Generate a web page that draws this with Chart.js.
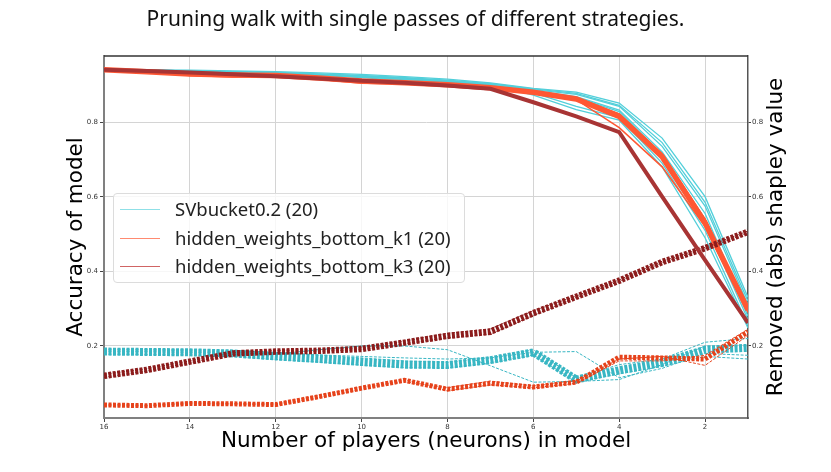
<!DOCTYPE html>
<html>
<head>
<meta charset="utf-8">
<title>Pruning walk</title>
<script src="https://cdn.jsdelivr.net/npm/chart.js@4.4.1/dist/chart.umd.min.js"></script>
<style>
  html, body { margin: 0; padding: 0; background: #fff; }
  #wrap { position: relative; width: 831px; height: 472px; }
  #legend {
    position: absolute; left: 113px; top: 193px; width: 352px; height: 90px;
    box-sizing: border-box; border: 1px solid #dcdcdc; border-radius: 4px;
    background: rgba(255,255,255,0.8);
    font-family: "Noto Sans", sans-serif; font-size: 18.5px; color: #222;
  }
  .item { position: absolute; left: 6px; height: 20px; }
  .item .swatch { position: absolute; left: 0; top: 9px; width: 40px; height: 0; border-top: 1.5px solid; }
  .item .label { position: absolute; left: 55px; top: -4px; white-space: nowrap; }
</style>
</head>
<body>
<div id="wrap">
  <canvas id="chart" width="831" height="472"></canvas>
  <div id="legend"></div>
</div>
<script>
// x positions (players left in the model) and tick labels
const players = [16, 15, 14, 13, 12, 11, 10, 9, 8, 7, 6, 5, 4, 3, 2, 1];
const xTicks = [16, 14, 12, 10, 8, 6, 4, 2];
const yTicks = [0.2, 0.4, 0.6, 0.8];
const legendLabels = ['SVbucket0.2 (20)', 'hidden_weights_bottom_k1 (20)', 'hidden_weights_bottom_k3 (20)'];

// accuracy of model (solid lines, left axis)
const svAcc = [
  [0.942, 0.940, 0.939, 0.937, 0.935, 0.932, 0.928, 0.922, 0.915, 0.905, 0.890, 0.880, 0.851, 0.757, 0.600, 0.330],
  [0.941, 0.939, 0.937, 0.935, 0.933, 0.929, 0.925, 0.919, 0.912, 0.902, 0.887, 0.874, 0.842, 0.735, 0.575, 0.310],
  [0.940, 0.938, 0.936, 0.934, 0.931, 0.927, 0.922, 0.916, 0.909, 0.899, 0.884, 0.868, 0.832, 0.720, 0.555, 0.290],
  [0.939, 0.937, 0.935, 0.933, 0.930, 0.926, 0.921, 0.914, 0.907, 0.897, 0.881, 0.860, 0.822, 0.705, 0.530, 0.270],
  [0.940, 0.938, 0.936, 0.933, 0.930, 0.925, 0.919, 0.911, 0.903, 0.893, 0.878, 0.842, 0.812, 0.690, 0.510, 0.255],
  [0.941, 0.939, 0.937, 0.934, 0.932, 0.928, 0.924, 0.918, 0.910, 0.900, 0.872, 0.833, 0.805, 0.680, 0.490, 0.248],
  [0.940, 0.939, 0.937, 0.935, 0.932, 0.928, 0.923, 0.917, 0.911, 0.903, 0.889, 0.877, 0.845, 0.745, 0.585, 0.320],
  [0.941, 0.939, 0.936, 0.934, 0.931, 0.927, 0.921, 0.915, 0.908, 0.898, 0.883, 0.866, 0.828, 0.712, 0.540, 0.280]
];
const k1Acc = [
  [0.940, 0.935, 0.929, 0.926, 0.925, 0.918, 0.910, 0.905, 0.900, 0.892, 0.880, 0.862, 0.815, 0.707, 0.530, 0.297],
  [0.941, 0.934, 0.925, 0.921, 0.924, 0.915, 0.904, 0.902, 0.898, 0.890, 0.878, 0.860, 0.785, 0.680, 0.520, 0.290],
  [0.939, 0.936, 0.930, 0.927, 0.926, 0.920, 0.912, 0.906, 0.901, 0.893, 0.882, 0.865, 0.822, 0.715, 0.540, 0.300]
];
const k3Acc = [
  [0.940, 0.937, 0.933, 0.928, 0.923, 0.917, 0.911, 0.905, 0.898, 0.889, 0.853, 0.815, 0.773, 0.600, 0.430, 0.262]
];

// removed (abs) shapley value (dashed lines, right axis)
const svShap = [
  [0.185, 0.184, 0.183, 0.180, 0.172, 0.165, 0.157, 0.150, 0.149, 0.162, 0.183, 0.110, 0.135, 0.155, 0.190, 0.195],
  [0.192, 0.191, 0.190, 0.188, 0.183, 0.176, 0.168, 0.160, 0.156, 0.168, 0.190, 0.115, 0.150, 0.165, 0.210, 0.220],
  [0.178, 0.177, 0.176, 0.172, 0.164, 0.157, 0.149, 0.142, 0.141, 0.155, 0.176, 0.104, 0.125, 0.145, 0.172, 0.165],
  [0.190, 0.189, 0.187, 0.184, 0.180, 0.176, 0.172, 0.168, 0.165, 0.168, 0.183, 0.185, 0.115, 0.140, 0.180, 0.175],
  [0.186, 0.185, 0.183, 0.182, 0.178, 0.190, 0.200, 0.200, 0.190, 0.147, 0.103, 0.105, 0.110, 0.150, 0.200, 0.200]
];
const k1Shap = [
  [0.042, 0.040, 0.046, 0.045, 0.043, 0.064, 0.087, 0.108, 0.084, 0.100, 0.090, 0.103, 0.170, 0.168, 0.165, 0.238],
  [0.044, 0.041, 0.048, 0.046, 0.045, 0.067, 0.090, 0.104, 0.088, 0.106, 0.093, 0.106, 0.165, 0.172, 0.148, 0.228],
  [0.040, 0.039, 0.045, 0.044, 0.042, 0.062, 0.084, 0.110, 0.080, 0.096, 0.088, 0.100, 0.160, 0.160, 0.175, 0.245]
];
const k3Shap = [
  [0.120, 0.136, 0.158, 0.180, 0.185, 0.187, 0.192, 0.209, 0.227, 0.238, 0.288, 0.332, 0.375, 0.425, 0.462, 0.506],
  [0.116, 0.133, 0.155, 0.177, 0.182, 0.186, 0.190, 0.206, 0.222, 0.232, 0.282, 0.330, 0.373, 0.423, 0.460, 0.504],
  [0.124, 0.139, 0.160, 0.182, 0.188, 0.190, 0.195, 0.213, 0.234, 0.246, 0.294, 0.334, 0.377, 0.427, 0.464, 0.508]
];

const Y_MIN = 0.007;
const Y_MAX = 0.977;

// one dataset per run; the first run of a group carries the thick "band" look
function runs(list, opts) {
  return list.map((r, i) => ({
    data: players.map((p, j) => ({ x: p, y: r[j] })),
    borderColor: opts.color,
    borderWidth: i === 0 ? opts.mainWidth : opts.width,
    borderDash: opts.dash || [],
    yAxisID: opts.axis,
    order: opts.order,
    pointRadius: 0,
    tension: 0,
    fill: false
  }));
}

const datasets = [
  ...runs(svShap, { color: '#38b6c3', mainWidth: 8, width: 1, dash: [3, 1.5], axis: 'y2', order: 6 }),
  ...runs(svAcc, { color: '#52cfda', mainWidth: 1.3, width: 1.3, axis: 'y', order: 5 }),
  ...runs(k1Shap, { color: '#e6421b', mainWidth: 5, width: 1, dash: [3, 1.5], axis: 'y2', order: 4 }),
  ...runs(k1Acc, { color: '#ff5733', mainWidth: 5.5, width: 1.5, axis: 'y', order: 3 }),
  ...runs(k3Shap, { color: '#8c1c1c', mainWidth: 6.5, width: 1, dash: [3, 1.5], axis: 'y2', order: 2 }),
  ...runs(k3Acc, { color: '#a83434', mainWidth: 4, width: 4, axis: 'y', order: 1 })
];

// top spine and the right axis title (reads bottom-to-top like the left one)
const framePlugin = {
  id: 'frame',
  afterDraw(chart) {
    const { ctx, chartArea } = chart;
    ctx.save();
    ctx.strokeStyle = '#333';
    ctx.lineWidth = 1.5;
    ctx.beginPath();
    ctx.moveTo(chartArea.left, chartArea.top);
    ctx.lineTo(chartArea.right, chartArea.top);
    ctx.stroke();
    ctx.translate(776, (chartArea.top + chartArea.bottom) / 2);
    ctx.rotate(-Math.PI / 2);
    ctx.fillStyle = '#000';
    ctx.font = '21.5px "DejaVu Sans"';
    ctx.textAlign = 'center';
    ctx.textBaseline = 'middle';
    ctx.fillText('Removed (abs) shapley value', 0, 0);
    ctx.restore();
  }
};

const tickFont = { family: 'DejaVu Sans', size: 7 };
const titleFont = { family: 'DejaVu Sans', size: 21.5 };

new Chart(document.getElementById('chart'), {
  type: 'line',
  data: { datasets },
  plugins: [framePlugin],
  options: {
    responsive: false,
    animation: false,
    events: [],
    layout: { autoPadding: false, padding: 0 },
    plugins: {
      legend: { display: false },
      tooltip: { enabled: false },
      title: {
        display: true,
        text: 'Pruning walk with single passes of different strategies.',
        font: { family: 'Noto Sans', size: 21, weight: 'normal' },
        color: '#111',
        padding: { top: 7.5, bottom: 23.3 }
      }
    },
    scales: {
      x: {
        type: 'linear',
        reverse: true,
        min: 1,
        max: 16,
        afterBuildTicks: s => { s.ticks = xTicks.map(v => ({ value: v })); },
        afterFit: s => { s.height = 54; },
        ticks: { font: tickFont, color: '#333', padding: 1, maxRotation: 0 },
        grid: { color: '#d4d4d4', lineWidth: 1, tickColor: '#444', tickLength: 4 },
        border: { color: '#808080', width: 2 },
        title: { display: true, text: 'Number of players (neurons) in model', font: titleFont, color: '#000', padding: { top: 0, bottom: 18 } }
      },
      y: {
        position: 'left',
        min: Y_MIN,
        max: Y_MAX,
        afterBuildTicks: s => { s.ticks = yTicks.map(v => ({ value: v })); },
        afterFit: s => { s.width = 104; },
        ticks: { font: tickFont, color: '#333', padding: 2, callback: v => v.toFixed(1) },
        grid: { color: '#d4d4d4', lineWidth: 1, tickColor: '#444', tickLength: 4 },
        border: { color: '#808080', width: 2 },
        title: { display: true, text: 'Accuracy of model', font: titleFont, color: '#000', padding: { top: 64, bottom: 0 } }
      },
      y2: {
        position: 'right',
        min: Y_MIN,
        max: Y_MAX,
        afterBuildTicks: s => { s.ticks = yTicks.map(v => ({ value: v })); },
        afterFit: s => { s.width = 83; },
        ticks: { font: tickFont, color: '#333', padding: 1, callback: v => v.toFixed(1) },
        grid: { drawOnChartArea: false, tickColor: '#444', tickLength: 3 },
        border: { color: '#555', width: 1.5 }
      }
    }
  }
});

// legend box inside the plot
const legendColors = ['#8fe0e7', '#ff8a70', '#d06464'];
const legendEl = document.getElementById('legend');
legendLabels.forEach((text, i) => {
  const item = document.createElement('div');
  item.className = 'item';
  item.style.top = (6 + i * 28.5) + 'px';
  item.innerHTML = '<div class="swatch" style="border-color:' + legendColors[i] + '"></div><div class="label"></div>';
  item.querySelector('.label').textContent = text;
  legendEl.appendChild(item);
});
</script>
</body>
</html>
